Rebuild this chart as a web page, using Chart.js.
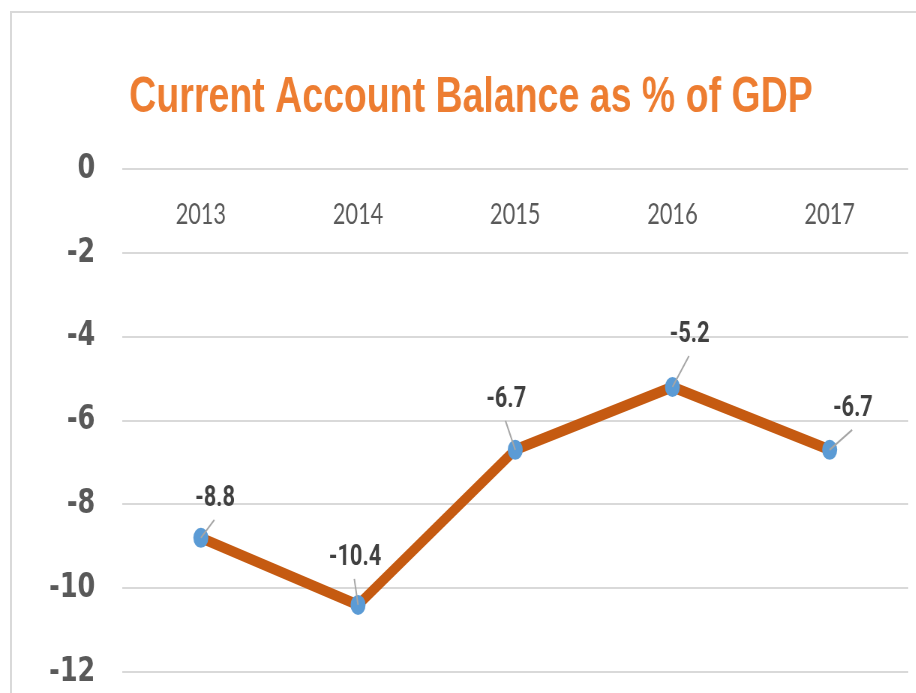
<!DOCTYPE html>
<html>
<head>
<meta charset="utf-8">
<script src="https://cdn.jsdelivr.net/npm/chart.js@4.4.1/dist/chart.umd.min.js"></script>
<style>
  html, body { margin: 0; padding: 0; background: #ffffff; overflow: hidden; width: 916px; height: 693px; }
  #frame { position: absolute; left: 10px; top: 11px; width: 1000px; height: 1000px;
           border: 2px solid #d9d9d9; box-sizing: border-box; }
  /* the original picture is squeezed horizontally (round markers appear as tall ellipses) */
  #squeeze { position: absolute; left: 0; top: 0; width: 1221px; height: 693px;
             transform: scaleX(0.75); transform-origin: 0 0; }
</style>
</head>
<body>
<div id="frame"></div>
<div id="squeeze"><canvas id="c" width="1221" height="693"></canvas></div>
<script>
// ---- data ----
const chartTitle = 'Current Account Balance as % of GDP';
const years = ['2013', '2014', '2015', '2016', '2017'];
const balancePctGDP = [-8.8, -10.4, -6.7, -5.2, -6.7];
const yTickMin = -12;
const yTickMax = 0;
const yTickStep = 2;

// ---- style ----
// label offsets relative to each point (labels were dragged by hand in the original)
const labelShift = [[19, -39], [-4, -47], [-12, -50], [23, -52], [31, -41]];

const dataLabelPlugin = {
  id: 'leaderLabels',
  afterDatasetsDraw(chart) {
    const ctx = chart.ctx;
    const meta = chart.getDatasetMeta(0);
    ctx.save();
    meta.data.forEach((pt, i) => {
      const sh = labelShift[i] || [0, -45];
      const lx = pt.x + sh[0], ly = pt.y + sh[1];
      ctx.strokeStyle = '#a6a6a6';
      ctx.lineWidth = 2;
      ctx.beginPath();
      ctx.moveTo(pt.x, pt.y);
      ctx.lineTo(lx - 1, ly + 21);
      ctx.stroke();
      ctx.fillStyle = '#404040';
      ctx.font = 'bold 29px Roboto, "Open Sans", sans-serif';
      ctx.textAlign = 'center';
      ctx.textBaseline = 'middle';
      ctx.fillText(String(chart.data.datasets[0].data[i]), lx, ly);
    });
    ctx.restore();
  }
};

new Chart(document.getElementById('c'), {
  type: 'line',
  data: {
    labels: years,
    datasets: [{
      data: balancePctGDP,
      borderColor: '#C55A11',
      borderWidth: 11,
      tension: 0,
      pointStyle: 'circle',
      pointRadius: 10,
      pointHoverRadius: 10,
      pointBackgroundColor: '#5B9BD5',
      pointBorderColor: '#5B9BD5',
      pointBorderWidth: 0
    }]
  },
  options: {
    responsive: false,
    animation: false,
    events: [],
    layout: { padding: { top: 12, left: 35, right: 0, bottom: 21 } },
    plugins: {
      legend: { display: false },
      tooltip: { enabled: false },
      title: {
        display: true,
        text: chartTitle,
        color: '#ED7D31',
        font: { family: '"Liberation Sans", Arial, sans-serif', size: 50, weight: 'bold' },
        padding: { top: 56, bottom: 41 }
      }
    },
    scales: {
      x: {
        position: { y: 0 },
        offset: true,
        afterFit(scale) { scale.height = 0; scale.paddingLeft = 0; scale.paddingRight = 0; },
        grid: { display: false, drawTicks: false },
        border: { display: false },
        ticks: { color: '#595959', font: { family: 'Lato, "Open Sans", sans-serif', size: 29 }, padding: 28 }
      },
      y: {
        min: yTickMin,
        max: yTickMax,
        afterFit(scale) { scale.width = 128; scale.paddingTop = 0; scale.paddingBottom = 0; },
        grid: { color: '#d9d9d9', lineWidth: 2, drawTicks: false },
        border: { display: false },
        ticks: {
          stepSize: yTickStep,
          color: '#595959',
          padding: 36,
          font: { family: '"DejaVu Sans", sans-serif', size: 34, weight: 'bold' }
        }
      }
    }
  },
  plugins: [dataLabelPlugin]
});
</script>
</body>
</html>
